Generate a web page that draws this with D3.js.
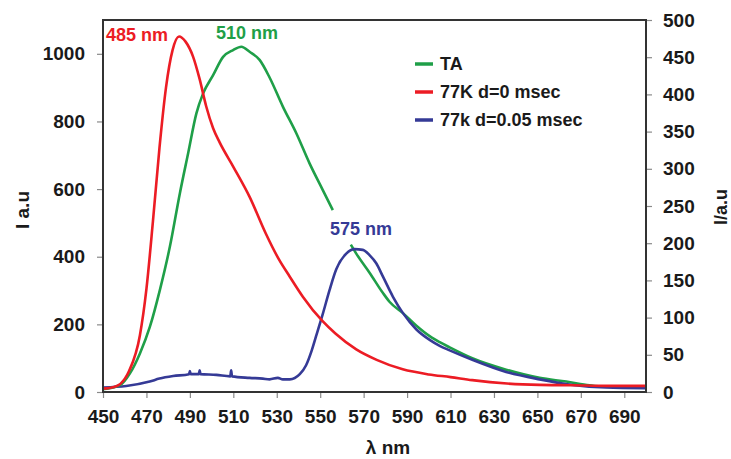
<!DOCTYPE html>
<html>
<head>
<meta charset="utf-8">
<script src="https://cdn.jsdelivr.net/npm/d3@7"></script>
<style>
  html, body { margin: 0; padding: 0; background: #fff; }
  svg { display: block; font-family: "Liberation Sans", Arial, sans-serif; font-weight: bold; }
</style>
</head>
<body>
<svg id="chart" width="731" height="459"></svg>
<script>
// ---------- data ----------
const xTicks = [450, 470, 490, 510, 530, 550, 570, 590, 610, 630, 650, 670, 690];
const leftTicks = [0, 200, 400, 600, 800, 1000];
const rightTicks = [0, 50, 100, 150, 200, 250, 300, 350, 400, 450, 500];

// 77K d=0 msec (left axis)
const redLambda = [450, 455, 458, 462, 467, 470, 473, 476, 479, 482, 485, 488, 491.5, 494.5, 497.5, 500.7, 503.7, 510, 517.5, 525, 531, 536, 542, 551, 557, 566.6, 576, 588, 600, 610, 620, 636, 651, 666, 682, 700];
const redValue  = [10, 15, 24, 62, 168, 305, 505, 722, 900, 1010, 1051, 1036, 991, 925, 845, 780, 738, 666, 577, 468, 392, 341, 282, 210, 173, 126, 95, 67, 52, 44, 35, 25, 21, 20, 18, 18];

// TA, first part (left axis)
const taLambda = [450, 458, 462.4, 467, 471.6, 476.2, 480.8, 485.4, 489.2, 493, 496.1, 500.7, 505.3, 509.9, 513.7, 517.5, 522.1, 526.7, 532.8, 539, 545.1, 551.2, 555.8];
const taValue  = [8, 21, 55, 114, 193, 302, 430, 588, 706, 824, 883, 937, 991, 1011, 1021, 1006, 982, 930, 844, 765, 676, 597, 538];

// TA, tail part (right axis)
const taTailLambda = [564.1, 566.6, 572.8, 578.9, 582, 588.1, 594.3, 600.4, 605, 609.6, 620.3, 635.6, 651, 663.3, 674, 680];
const taTailValue  = [198, 186, 160, 133, 121, 106, 89, 75, 67, 60, 45, 30, 19, 14, 9, 7];

// 77k d=0.05 msec (right axis)
const blueLambda = [450, 460.7, 471.5, 476, 482.3, 489.6, 490, 490.4, 494.1, 494.5, 494.9, 502.2, 508.6, 509, 509.4, 517.5, 523.6, 526.7, 530.5, 532.8, 536, 540.6, 543.5, 546, 548.1, 551.2, 554.3, 557.4, 562, 565.8, 569.6, 572.7, 575.8, 578.9, 583.5, 588.1, 594.3, 600.4, 605, 609.6, 620.3, 635.6, 651, 666.3, 681.6, 700];
const blueValue  = [6, 8, 14, 18, 21.5, 24, 28, 24, 24, 29, 24, 23, 21, 29, 21, 19, 18, 17, 19, 17, 17, 24, 36, 55, 75, 105, 137, 165, 186, 192, 191, 184, 173, 155, 128, 106, 84, 70, 62, 56, 43, 27, 17, 9.5, 6, 5];

const seriesNames = ["TA", "77K d=0 msec", "77k d=0.05 msec"];
const seriesColors = ["#1f9f48", "#ec1c24", "#353a96"];
const peakLabels = ["510 nm", "485 nm", "575 nm"];

// ---------- layout ----------
const svg = d3.select("#chart");
const L = 103, R = 646, T = 20, B = 392;

const x = d3.scaleLinear().domain([450, 700]).range([L, R]);
const yL = d3.scaleLinear().domain([0, 1100]).range([B, T]);
const yR = d3.scaleLinear().domain([0, 500]).range([B, T]);

const tickColor = "#8a8a8a";

function styleAxis(g) {
  g.select(".domain").remove();
  g.selectAll(".tick line").attr("stroke", tickColor).attr("stroke-width", 1.2);
  g.selectAll(".tick text").attr("fill", "#1a1a1a")
    .style("font-family", '"Liberation Sans", Arial, sans-serif')
    .style("font-weight", "bold").style("font-size", "19px");
}

svg.append("g").attr("transform", `translate(0,${B})`)
  .call(d3.axisBottom(x).tickValues(xTicks).tickSize(6).tickPadding(12).tickFormat(d3.format("d")))
  .call(styleAxis);

svg.append("g").attr("transform", `translate(${L},0)`)
  .call(d3.axisLeft(yL).tickValues(leftTicks).tickSize(6).tickPadding(12).tickFormat(d3.format("d")))
  .call(styleAxis);

svg.append("g").attr("transform", `translate(${R},0)`)
  .call(d3.axisRight(yR).tickValues(rightTicks).tickSize(6).tickPadding(11).tickFormat(d3.format("d")))
  .call(styleAxis);

// ---------- lines ----------
const zip = (a, b) => a.map((v, i) => [v, b[i]]);
const lineL = d3.line().x(d => x(d[0])).y(d => yL(d[1])).curve(d3.curveMonotoneX);
const lineR = d3.line().x(d => x(d[0])).y(d => yR(d[1])).curve(d3.curveMonotoneX);

const plot = svg.append("g");
plot.append("path").datum(zip(taTailLambda, taTailValue)).attr("d", lineR)
  .attr("fill", "none").attr("stroke", seriesColors[0]).attr("stroke-width", 2.6);
plot.append("path").datum(zip(blueLambda, blueValue)).attr("d", lineR)
  .attr("fill", "none").attr("stroke", seriesColors[2]).attr("stroke-width", 2.6);
plot.append("path").datum(zip(taLambda, taValue)).attr("d", lineL)
  .attr("fill", "none").attr("stroke", seriesColors[0]).attr("stroke-width", 2.6);
plot.append("path").datum(zip(redLambda, redValue)).attr("d", lineL)
  .attr("fill", "none").attr("stroke", seriesColors[1]).attr("stroke-width", 2.6);

// frame
svg.append("rect").attr("x", L).attr("y", T).attr("width", R - L).attr("height", B - T)
  .attr("fill", "none").attr("stroke", "#333").attr("stroke-width", 2);

// ---------- peak labels ----------
svg.append("text").attr("x", 137).attr("y", 35).attr("text-anchor", "middle").attr("dominant-baseline", "central")
  .attr("fill", seriesColors[1]).style("font-size", "18px").text(peakLabels[1]);
svg.append("text").attr("x", 247).attr("y", 33).attr("text-anchor", "middle").attr("dominant-baseline", "central")
  .attr("fill", seriesColors[0]).style("font-size", "18px").text(peakLabels[0]);
svg.append("text").attr("x", 361).attr("y", 229).attr("text-anchor", "middle").attr("dominant-baseline", "central")
  .attr("fill", seriesColors[2]).style("font-size", "18px").text(peakLabels[2]);

// ---------- legend ----------
const legend = svg.append("g");
const legendOrder = [0, 1, 2];
legendOrder.forEach((s, i) => {
  const ly = 64 + i * 28;
  legend.append("line").attr("x1", 415).attr("x2", 433).attr("y1", ly).attr("y2", ly)
    .attr("stroke", seriesColors[s]).attr("stroke-width", 3.5);
  legend.append("text").attr("x", 440).attr("y", ly).attr("dominant-baseline", "central")
    .attr("fill", "#1a1a1a").style("font-size", "18px").text(seriesNames[s]);
});

// ---------- axis titles ----------
svg.append("text").attr("transform", "translate(22,210) rotate(-90)").attr("text-anchor", "middle")
  .attr("dominant-baseline", "central").attr("fill", "#1a1a1a").style("font-size", "19px").text("I a.u");
svg.append("text").attr("transform", "translate(721,207) rotate(-90)").attr("text-anchor", "middle")
  .attr("dominant-baseline", "central").attr("fill", "#1a1a1a").style("font-size", "18px").text("I/a.u");
svg.append("text").attr("x", 388).attr("y", 447).attr("text-anchor", "middle")
  .attr("dominant-baseline", "central").attr("fill", "#1a1a1a").style("font-size", "19px").text("λ nm");
</script>
</body>
</html>
